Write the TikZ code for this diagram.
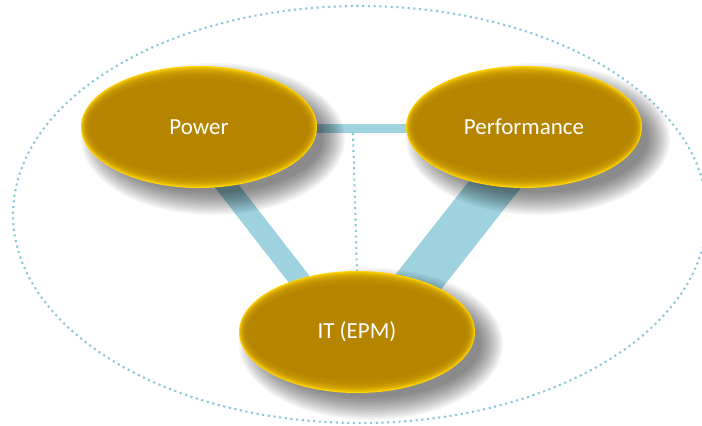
\documentclass[tikz,border=0pt]{standalone}
\usepackage{fontspec}
\setmainfont{Carlito}
\usetikzlibrary{shapes.geometric,calc}
\definecolor{linkblue}{RGB}{157,210,222}
\definecolor{dotblue}{RGB}{140,200,218}
\definecolor{rimyellow}{RGB}{255,212,0}
\definecolor{goldcore}{RGB}{182,133,0}
\pgfdeclarelayer{lines}
\pgfdeclarelayer{shade}
\pgfdeclarelayer{gold}
\pgfsetlayers{lines,shade,gold,main}
\begin{document}
\begin{tikzpicture}[x=1pt,y=-1pt,
  band/.style={draw=linkblue, line cap=butt},
  dotline/.style={draw=dotblue, line width=2.1pt, dash pattern=on 2.1pt off 3.6pt},
  ball/.style={ellipse, minimum width=236pt, minimum height=122pt, inner sep=0pt,
    text=white, font=\fontsize{23}{26}\selectfont}]
\useasboundingbox (0,0) rectangle (702,426);

% the three areas
\node[ball] (power) at (199,127) {Power};
\node[ball] (perf)  at (524,127) {Performance};
\node[ball] (it)    at (357,332) {IT (EPM)};

% enclosing ring and the links between the areas
\begin{pgfonlayer}{lines}
  \draw[dotline] (360,214.5) ellipse [x radius=347pt, y radius=208.5pt];
  \draw[band, line width=20.5pt] ($(power.center)+(-18,0)$) -- ($(it.center)+(-17,0)$);
  \draw[band, line width=45pt] ($(perf.center)+(16,0)$) -- ($(it.center)+(22,0)$);
  \draw[band, line width=9pt] ($(power.center)+(0,1)$) -- ($(perf.center)+(0,1)$);
  \coordinate (split) at (353,133);
  \draw[dotline] (split) -- (it.north);
\end{pgfonlayer}

% soft drop shadows
\begin{pgfonlayer}{shade}
  \foreach \n in {power,perf,it}{
    \foreach \k in {0,...,14}{
      \fill[black, opacity=0.04] ($(\n.center)+(14,12)$)
        ellipse [x radius={132pt-1.6pt*\k}, y radius={76pt-1.6pt*\k}];
    }
  }
\end{pgfonlayer}

% golden bevelled discs
\begin{pgfonlayer}{gold}
  \foreach \n in {power,perf,it}{
    \fill[rimyellow] (\n.center) ellipse [x radius=118pt, y radius=61pt];
    \foreach \k in {1,...,10}{
      \fill[goldcore, opacity=0.22] (\n.center)
        ellipse [x radius={118pt-0.7pt*\k}, y radius={61pt-1.1pt*\k}];
    }
    \fill[goldcore] (\n.center) ellipse [x radius=110pt, y radius=48pt];
  }
\end{pgfonlayer}
\end{tikzpicture}
\end{document}
